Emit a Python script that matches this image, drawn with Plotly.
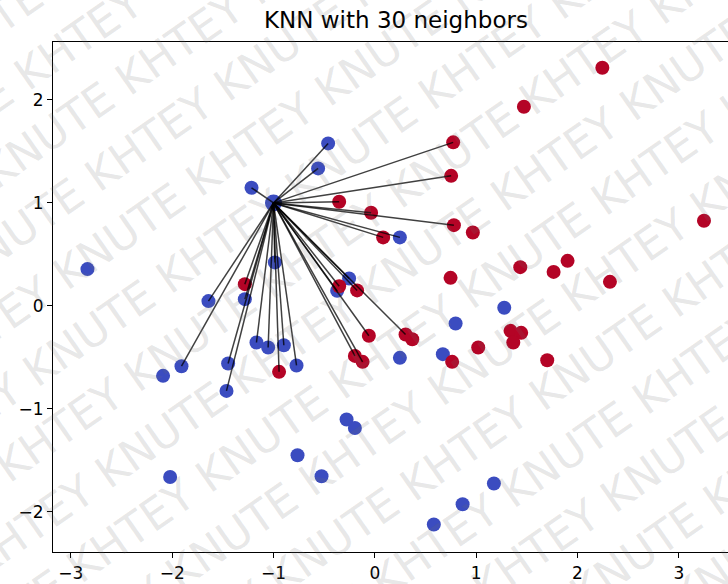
import numpy as np
import plotly.graph_objects as go

# Class 0 (blue) samples
blue_x = [-0.461, -0.560, -1.217, -2.836, -0.987, -0.254, -0.372, 0.247,
          -1.283, -1.642, 1.277, 0.797, 0.247, 0.671, -1.168, -1.053,
          -0.898, -1.908, -2.090, -1.448, -1.464, -0.773, -0.279, -0.197,
          -0.763, -0.526, -2.020, 1.175, 0.866, 0.582]
blue_y = [1.578, 1.335, 1.147, 0.357, 0.422, 0.266, 0.146, 0.665,
          0.065, 0.046, -0.019, -0.171, -0.505, -0.469, -0.356, -0.404,
          -0.382, -0.586, -0.680, -0.560, -0.826, -0.579, -1.104, -1.186,
          -1.451, -1.655, -1.662, -1.726, -1.927, -2.124]

# Class 1 (red) samples
red_x = [2.245, 1.471, 0.773, 0.753, -0.352, -0.037, 0.780, 0.967,
         0.082, 3.248, 1.435, 1.764, 1.902, 0.747, 2.320, -0.352,
         -0.175, -1.283, -0.059, 0.303, 0.369, 1.339, 1.444, 1.366,
         1.020, 0.763, 1.701, -0.197, -0.121, -0.945]
red_y = [2.313, 1.934, 1.588, 1.263, 1.011, 0.904, 0.784, 0.713,
         0.665, 0.826, 0.376, 0.330, 0.437, 0.272, 0.233, 0.190,
         0.150, 0.211, -0.291, -0.278, -0.324, -0.243, -0.262, -0.356,
         -0.404, -0.544, -0.528, -0.486, -0.544, -0.641]

query = [-1.0, 1.0]
n_neighbors = 30

x_ticks = [-3, -2, -1, 0, 1, 2, 3]
y_ticks = [-2, -1, 0, 1, 2]

BLUE = "#3b4cc0"
RED = "#b40426"

# nearest neighbours of the query point
all_x = np.array(blue_x + red_x)
all_y = np.array(blue_y + red_y)
dist = np.hypot(all_x - query[0], all_y - query[1])
nearest = np.argsort(dist)[:n_neighbors]

fig = go.Figure()
fig.add_trace(go.Scatter(
    x=blue_x + red_x, y=blue_y + red_y, mode="markers",
    marker=dict(size=14, color=[BLUE] * len(blue_x) + [RED] * len(red_x),
                line=dict(width=0)),
    showlegend=False, hoverinfo="skip"))
fig.add_trace(go.Scatter(
    x=[query[0]], y=[query[1]], mode="markers",
    marker=dict(size=17, color=BLUE, line=dict(width=0)),
    showlegend=False, hoverinfo="skip"))

lx, ly = [], []
for i in nearest:
    lx += [query[0], all_x[i], None]
    ly += [query[1], all_y[i], None]
fig.add_trace(go.Scatter(
    x=lx, y=ly, mode="lines",
    line=dict(color="rgba(0,0,0,0.75)", width=1.5),
    showlegend=False, hoverinfo="skip"))

# page geometry (pixels)
W, H = 728, 584
L, T, B = 53, 42, 32
pw, ph = W - L, H - T - B

annotations = [dict(
    text="KNN with 30 neighbors", xref="paper", yref="paper",
    x=(396 - L) / pw, y=(ph + T - 20) / ph, xanchor="center", yanchor="middle",
    showarrow=False, font=dict(size=23, color="black", family="DejaVu Sans"))]

# diagonal watermark rows
ang = np.deg2rad(35)
d = np.array([np.cos(ang), -np.sin(ang)])
n = np.array([np.sin(ang), np.cos(ang)])
spacing = 62
row_text = "KHTEY KNUTE " * 7
for k in range(-9, 10):
    c = np.array([364.0, 292.0]) + k * spacing * n + (k % 2) * 80 * d
    annotations.append(dict(
        text=row_text, xref="paper", yref="paper",
        x=(c[0] - L) / pw, y=(H - B - c[1]) / ph,
        xanchor="center", yanchor="middle", showarrow=False,
        textangle=-35,
        font=dict(size=44, color="rgba(110,110,110,0.17)", family="DejaVu Sans")))

axis_common = dict(
    showline=True, linecolor="black", linewidth=1.2,
    ticks="outside", ticklen=5, tickwidth=1.2, tickcolor="black",
    showgrid=False, zeroline=False,
    tickfont=dict(size=17, color="black", family="DejaVu Sans"))

fig.update_layout(
    width=W, height=H,
    margin=dict(l=L, r=0, t=T, b=B),
    paper_bgcolor="white", plot_bgcolor="white",
    xaxis=dict(range=[-3.176, 3.485], tickvals=x_ticks, mirror=True, **axis_common),
    yaxis=dict(range=[-2.391, 2.563], tickvals=y_ticks, mirror=False, **axis_common),
    annotations=annotations,
)

fig.write_html("out.html")
